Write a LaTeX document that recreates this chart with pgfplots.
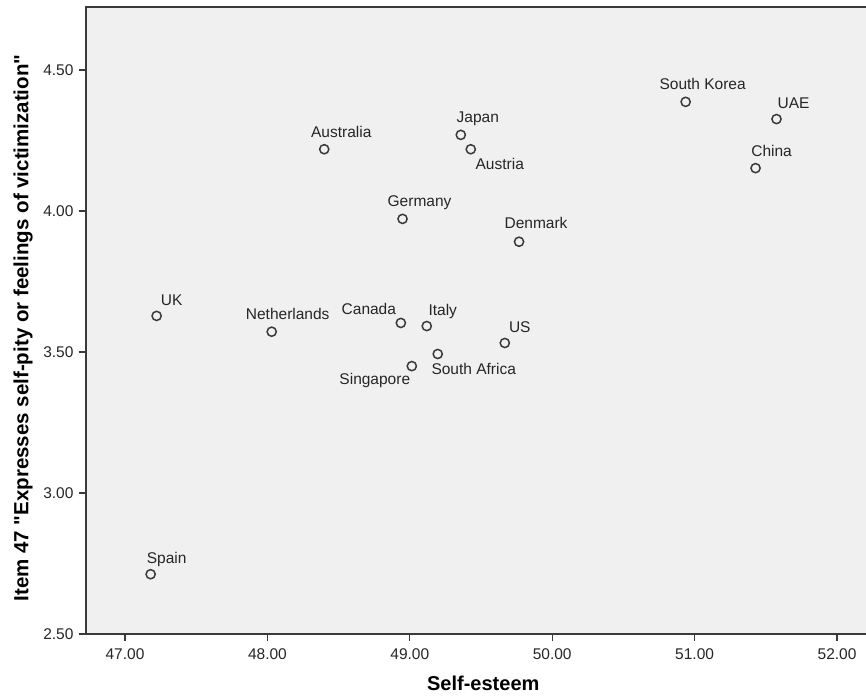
\documentclass[border=0pt]{standalone}
\usepackage{pgfplots}
\pgfplotsset{compat=1.18}
\usepackage{pgfplotstable}
\usepackage{fontspec}
\setmainfont{Liberation Sans}
% no TeX ligature mapping here, so " stays a straight quote
\newfontfamily\plainq{Liberation Sans}

\definecolor{panel}{HTML}{F0F0F0}
\definecolor{ink}{HTML}{3A3A3A}

% x = self-esteem, y = item 47 mean, dx/dy = label offset (pt) from the point
\pgfplotstableread{
x      y     name            dx   dy
47.180 2.712 Spain           16   11
47.222 3.628 UK              15   10
48.030 3.572 Netherlands     16   12
48.399 4.219 Australia       17   12
48.949 3.972 Germany         17   12
48.937 3.603 Canada         -32    8
49.119 3.592 Italy           16   11
49.014 3.450 Singapore      -37  -18
49.196 3.493 {South Africa}  36  -21
49.358 4.270 Japan           17   12
49.428 4.219 Austria         29  -20
49.767 3.891 Denmark         17   13
49.667 3.532 US              15   10
50.937 4.387 {South Korea}   17   12
51.575 4.326 UAE             17   11
51.428 4.152 China           16   12
}\countries

\begin{document}
\begin{tikzpicture}
\useasboundingbox (-86pt,-63pt) rectangle (780pt,634pt);
\begin{axis}[
  at={(0pt,0pt)}, anchor=south west,
  x=142.4pt, y=282pt,
  xmin=46.726, xmax=52.218, ymin=2.5, ymax=4.7234,
  axis background/.style={fill=panel},
  axis line style={draw=ink, line width=1.4pt},
  xtick={47,48,49,50,51,52}, ytick={2.5,3,3.5,4,4.5},
  tick align=outside, tick pos=left,
  major tick length=7pt,
  tick style={draw=ink, line width=1.2pt},
  ticklabel style={font=\fontsize{15.5}{18}\selectfont, text=black!85},
  xticklabel style={yshift=-4pt},
  yticklabel style={xshift=-2pt},
  /pgf/number format/fixed, /pgf/number format/fixed zerofill,
  /pgf/number format/precision=2, /pgf/number format/assume math mode=true,
  xlabel={Self-esteem},
  ylabel={Item 47 {\plainq"}Expresses self-pity or feelings of victimization{\plainq"}},
  xlabel style={font=\bfseries\fontsize{20}{23}\selectfont, at={(axis description cs:0.508,-0.079)}, anchor=center},
  ylabel style={font=\bfseries\fontsize{20.5}{23}\selectfont, at={(axis description cs:-0.0805,0.488)}, anchor=center},
]
\addplot[only marks, mark=*, mark size=4.6pt,
  mark options={draw=ink, fill=panel, line width=1.5pt},
  nodes near coords, point meta=explicit symbolic,
  visualization depends on={\thisrow{dx} \as \ldx},
  visualization depends on={\thisrow{dy} \as \ldy},
  nodes near coords style={anchor=base, xshift=\ldx pt, yshift=\ldy pt,
    font=\fontsize{15.5}{18}\selectfont, text=black!85, inner sep=0pt}]
  table[x=x, y=y, meta=name] {\countries};
\end{axis}
\end{tikzpicture}
\end{document}
